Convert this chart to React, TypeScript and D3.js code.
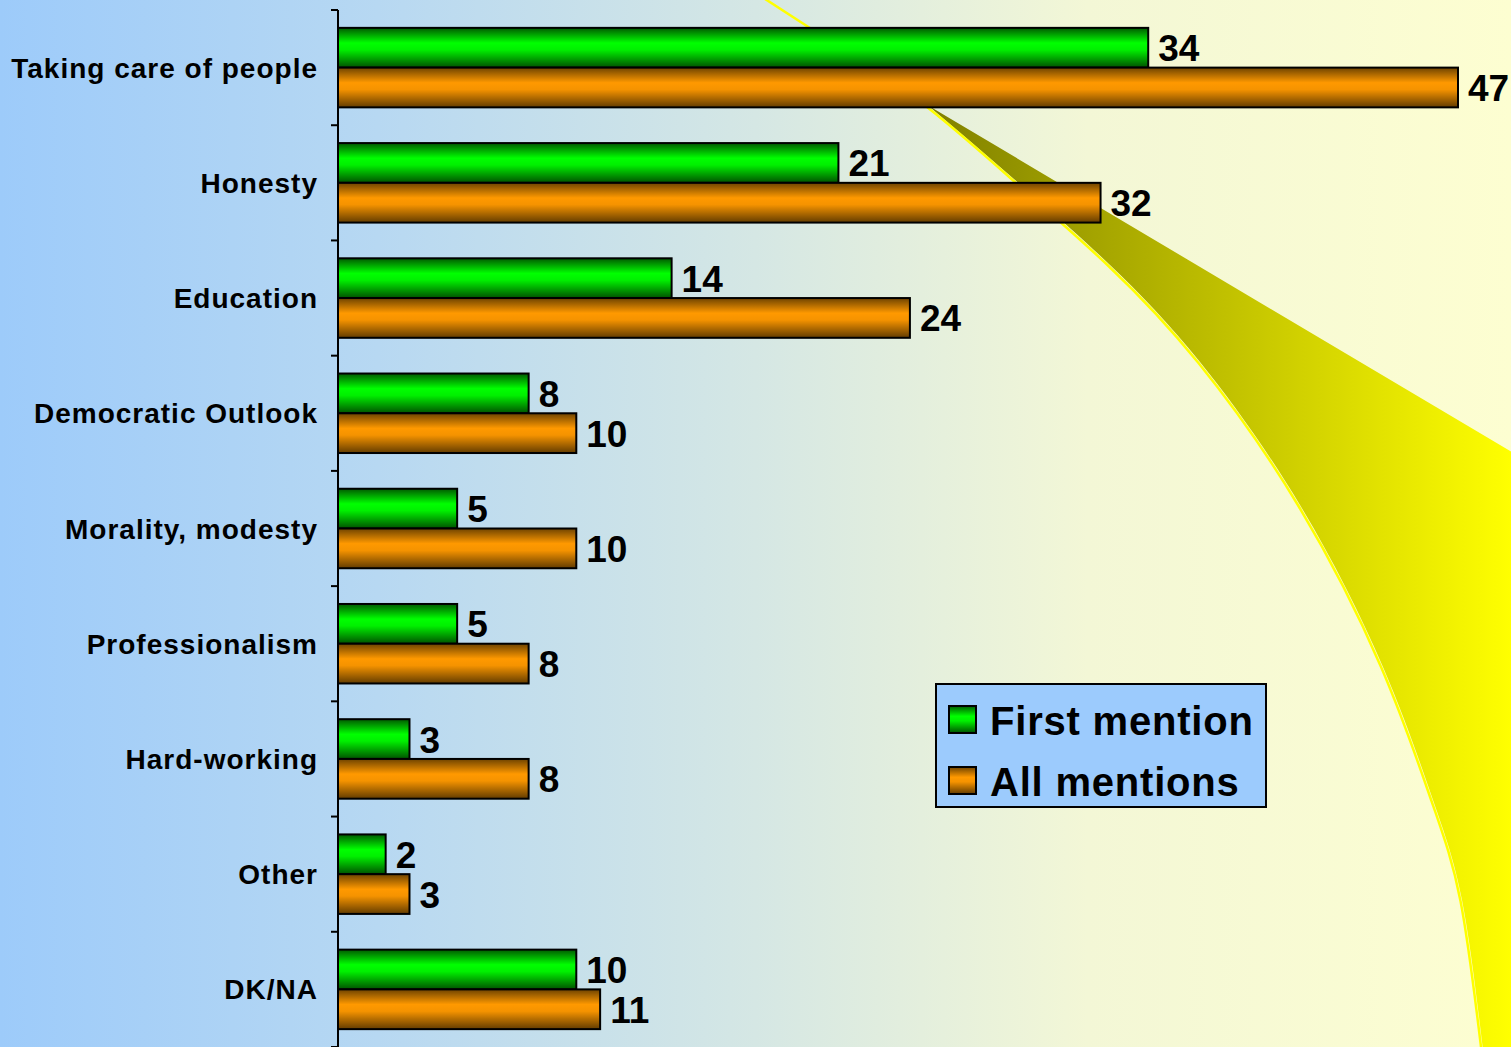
import React from "react";
import * as d3 from "d3";

const categories = [
  "Taking care of people",
  "Honesty",
  "Education",
  "Democratic Outlook",
  "Morality, modesty",
  "Professionalism",
  "Hard-working",
  "Other",
  "DK/NA",
];
const firstMention = [34, 21, 14, 8, 5, 5, 3, 2, 10];
const allMentions = [47, 32, 24, 10, 10, 8, 8, 3, 11];
const seriesNames = ["First mention", "All mentions"];

const W = 1511;
const H = 1047;
const FONT = "'Liberation Sans', Arial, Helvetica, sans-serif";

export default function App() {
  const x = d3.scaleLinear().domain([0, 47]).range([338, 1458]);
  const y = d3.scaleBand<string>().domain(categories).range([10, 1047]).padding(0);
  const bw = y.bandwidth();
  const barH = bw * 0.345;
  const off = (bw - 2 * barH) / 2;

  // decorative swoosh
  const lowerPts: [number, number][] = [
    [762, -5], [850, 52], [931, 108], [1021, 185], [1110, 265], [1200, 362],
    [1300, 505], [1383, 667], [1433, 800], [1462, 900], [1483, 1050],
  ];
  const line = d3.line().curve(d3.curveNatural);
  const lowerAfterTip = lowerPts.slice(2);
  const tipX = 929, tipY = 106;
  const shapePath =
    `M${tipX},${tipY} L1515,454 L1515,1050 ` +
    line(lowerAfterTip.slice().reverse())!.replace(/^M/, "L") + " Z";

  const series = [
    { name: seriesNames[0], values: firstMention, grad: "gGreen", idx: 0 },
    { name: seriesNames[1], values: allMentions, grad: "gOrange", idx: 1 },
  ];

  const ticks = [...categories.map((c) => y(c)!), 1047];

  return (
    <svg width={W} height={H} style={{ position: "absolute", left: 0, top: 0 }} fontFamily={FONT}>
      <defs>
        <linearGradient id="bg" x1="0" x2="1" y1="0" y2="0">
          <stop offset="0" stopColor="#9dcbfa" />
          <stop offset="0.25" stopColor="#b7d8f2" />
          <stop offset="0.5" stopColor="#d5e7e4" />
          <stop offset="0.72" stopColor="#f3f7d6" />
          <stop offset="1" stopColor="#fdfed1" />
        </linearGradient>
        <linearGradient id="swoosh" gradientUnits="userSpaceOnUse" x1="930" x2="1511" y1="0" y2="0">
          <stop offset="0" stopColor="#808000" />
          <stop offset="1" stopColor="#ffff00" />
        </linearGradient>
        <linearGradient id="gGreen" x1="0" x2="0" y1="0" y2="1">
          <stop offset="0" stopColor="#005a00" />
          <stop offset="0.38" stopColor="#00ff00" />
          <stop offset="0.55" stopColor="#00f000" />
          <stop offset="1" stopColor="#005200" />
        </linearGradient>
        <linearGradient id="gOrange" x1="0" x2="0" y1="0" y2="1">
          <stop offset="0" stopColor="#6e4300" />
          <stop offset="0.38" stopColor="#ff9900" />
          <stop offset="0.55" stopColor="#f59300" />
          <stop offset="1" stopColor="#633c00" />
        </linearGradient>
      </defs>
      <rect x={0} y={0} width={W} height={H} fill="url(#bg)" />
      <path d={shapePath} fill="url(#swoosh)" />
      <path d={line(lowerPts)!} fill="none" stroke="#ffff00" strokeWidth={2.5} transform="translate(-1.5,1)" />

      {/* axis */}
      <line x1={338} x2={338} y1={10} y2={1047} stroke="#000" strokeWidth={2} />
      {ticks.map((t, i) => (
        <line key={i} x1={331} x2={338} y1={t} y2={t} stroke="#000" strokeWidth={2} />
      ))}

      {/* bars */}
      {series.map((s) =>
        categories.map((c, i) => {
          const y0 = y(c)! + off + s.idx * barH;
          const v = s.values[i];
          return (
            <g key={s.name + c}>
              <rect x={x(0)} y={y0} width={x(v) - x(0)} height={barH} fill={`url(#${s.grad})`} stroke="#000" strokeWidth={2} />
              <text x={x(v) + 10} y={y0 + barH / 2 + 13.5} fontSize={37} fontWeight="bold" fill="#000">
                {v}
              </text>
            </g>
          );
        })
      )}

      {/* category labels */}
      {categories.map((c) => (
        <text key={c} x={318} y={y(c)! + bw / 2 + 10} textAnchor="end" fontSize={28} fontWeight="bold" letterSpacing={1} fill="#000">
          {c}
        </text>
      ))}

      {/* legend */}
      <g>
        <rect x={936} y={684} width={330} height={123} fill="#9ccbfd" stroke="#000" strokeWidth={2} />
        {series.map((s, i) => (
          <g key={s.name}>
            <rect x={949} y={706 + i * 61} width={27} height={27} fill={`url(#${s.grad})`} stroke="#000" strokeWidth={2} />
            <text x={990} y={735 + i * 61} fontSize={40} fontWeight="bold" letterSpacing={0.8} fill="#000">
              {s.name}
            </text>
          </g>
        ))}
      </g>
    </svg>
  );
}
